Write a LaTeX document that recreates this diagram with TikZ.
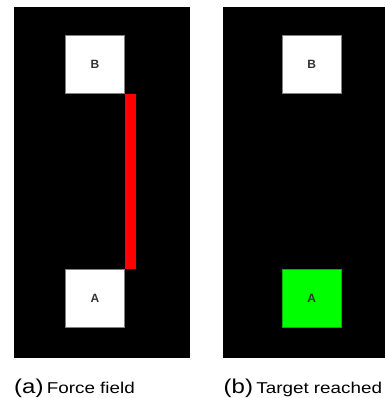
\documentclass[tikz,border=0pt]{standalone}
\usepackage{fontspec}
\setmainfont{Liberation Sans}
\newfontfamily\capfont[FakeStretch=1.2]{Liberation Sans}
\definecolor{labelgray}{HTML}{333333}
\definecolor{edgegray}{HTML}{808080}
\definecolor{goalgreen}{HTML}{00FF00}
\definecolor{goaledge}{HTML}{00B000}
\definecolor{fieldred}{HTML}{FF0000}
\begin{document}
\begin{tikzpicture}[x=1pt,y=-1pt,
  panel/.style={fill=black,draw=none},
  cell/.style={draw=edgegray,line width=0.6pt,fill=white,minimum width=58.6pt,minimum height=58.3pt,
    inner sep=0pt,text=labelgray,font=\fontsize{12}{12}\selectfont\bfseries},
  goalcell/.style={cell,fill=goalgreen,draw=goaledge},
  caption/.style={anchor=base west,inner sep=0pt,text=black}]
  % canvas
  \useasboundingbox (0,0) rectangle (385,398);
  \fill[white] (0,0) rectangle (385,398);

  % left panel: force field between the two cells
  \fill[panel] (14,7) rectangle (190,358);
  \node[cell] (bL) at (95,64.2) {B};
  \node[cell] (aL) at (95,298.2) {A};
  \fill[fieldred] (bL.south east) rectangle ([xshift=11.7pt]aL.north east);

  % right panel: target reached
  \fill[panel] (223,7) rectangle (385,358);
  \node[cell] (bR) at (311.7,64.2) {B};
  \node[goalcell] (aR) at (311.7,298.2) {A};

  % captions
  \node[caption] (capa) at (14,393) {\capfont{\fontsize{20}{20}\selectfont (a)} {\fontsize{15.7}{15.7}\selectfont Force field}};
  \node[caption] (capb) at (223.5,393) {\capfont{\fontsize{20}{20}\selectfont (b)} {\fontsize{15.7}{15.7}\selectfont Target reached}};
\end{tikzpicture}
\end{document}
